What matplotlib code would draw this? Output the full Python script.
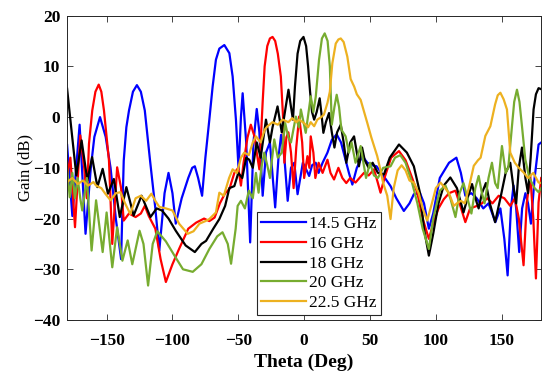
import matplotlib
matplotlib.use("Agg")
import matplotlib.pyplot as plt
import numpy as np

plt.rcParams['font.family'] = ['Liberation Serif', 'DejaVu Serif']

# 14.5 GHz
th_145 = [-180, -176, -170.5, -166, -162, -159.3, -155, -150.7, -147, -143, -139, -137, -135, -133, -130, -127, -124, -121,
          -117, -113, -110, -106, -103, -100, -97.5, -93, -88, -85, -83, -80.5, -77.5, -75, -72, -69.5, -67, -64.4, -60.6,
          -56.8, -54.3, -51.8, -49.8, -48, -46.7, -44, -41, -38.5, -36, -34, -31.5, -29, -26, -22, -19.5, -17.5, -15, -12.5,
          -10, -7.5, -5, -1, 1, 3.8, 6, 8.8, 11, 14, 17.7, 21, 24.7, 28, 31, 34, 36.6, 40, 44.2, 48, 52, 55, 60, 65.6, 70,
          75.7, 80, 83.3, 88, 91, 94.7, 98, 103, 110, 115.6, 119, 122.4, 127, 131, 136, 140, 145.2, 149, 152, 154.5, 157,
          159, 161, 163.3, 165.5, 168, 170, 172.2, 175, 178, 180]
g_145 = [-5.5, -19.5, -1.5, -23, -10, -3.9, 0, -3.9, -10, -20, -28, -8.6, -2, 1.3, 5, 6.3, 5, 1.3,
         -8.6, -18, -26.3, -15, -11, -15, -21, -16, -12, -10, -9.7, -12, -15.5, -8, -0.5, 6, 11.3, 13.5, 14.2,
         12.6, 8, -0.5, -10.3, 0, 4.7, -5, -24.7, -5, 1.6, -3, -15.5, -7, -5, -17.8, -8, -3.5, -8, -16.5,
         -10, -9, -15.2, -9, -10, -11.6, -9.5, -9, -11, -9, -7, -4.5, -3.4, -5, -8, -11, -13.3, -10, -7.7, -9, -9.5, -9.7, -11.5, -13.6, -16,
         -18.5, -17, -15.2, -15, -17, -22, -19, -12, -9, -8, -11, -15.5, -15, -16, -18, -17, -20.7, -18, -24, -31.2, -18,
         -13.5, -18, -26.6, -18, -15, -17, -21, -12, -5.4, -5]

# 16 GHz
th_16 = [-180, -177.5, -174, -170, -167, -165, -163.4, -160.9, -158.5, -156, -154, -152, -148.2, -145.7, -142, -139, -137,
         -133, -128, -124, -121, -118, -113, -109, -105, -100, -95, -88, -82, -76, -72, -68, -64, -60, -56.8, -53, -50, -48,
         -46, -43, -40.5, -37.5, -36, -34, -31.5, -30, -28, -26, -24, -22, -20, -17.7, -16, -15, -13.5, -12, -10, -8, -6,
         -3.8, -1.5, 0, 2.5, 4, 5, 7, 8.5, 11, 14, 17.7, 20, 22.7, 26, 29, 32, 35, 39, 42, 45.4, 49, 53, 56, 58, 61, 66,
         72, 77, 82, 86, 90, 94.7, 98, 102, 106, 110, 114.9, 118, 122.4, 126, 131.3, 135, 139, 143, 147.7, 152, 156.5, 160,
         163, 166.6, 169, 171.7, 174, 176, 178, 180]
g_16 = [-11.5, -8, -21.7, -3.6, -10, -16, -5.3, 1.3, 5, 6.4, 5, 1.3, -8.6, -25, -9.9, -14, -20.4,
        -19, -19.7, -19, -17.5, -19.5, -22, -28, -32.5, -29, -26, -22, -20.8, -20, -20.5, -19.8, -17, -15, -14.2, -11, -10, -13.5,
        -9, -4, -1.5, -4, -7, -10.3, 3, 10, 14, 15.5, 15.8, 15, 12.5, 8, 0, -9, -4, -3, -7, -14, -6,
        0.1, -5, -12, -7.7, -10, -3.8, -7, -12, -9, -11, -8.4, -11, -12.3, -10, -12, -13, -12, -12.9, -12, -11, -11.5, -10.3, -13, -14.9, -12, -8,
        -6.7, -8.5, -12, -15, -20, -24, -21, -18, -16.2, -15, -14.5, -17, -20.7, -18, -17.5, -17, -16, -17, -15.5, -16, -17.5, -16,
        -20, -29.2, -17, -11.6, -20, -31.8, -16.8, -12]

# 18 GHz
th_18 = [-180, -176.5, -173, -169, -164.6, -161, -157, -153, -149, -144.5, -140, -135, -129.5, -123.5, -116.7, -112, -108,
         -103, -97.5, -90, -83, -78, -74.5, -69, -64.4, -60, -56.8, -53, -50, -47, -44, -41.7, -39, -36, -33, -29, -26, -24,
         -20.2, -17, -14, -11.9, -10, -8.5, -7, -5, -3, -0.5, 1.5, 3, 4.5, 6, 7.6, 9.5, 11.8, 13, 14.6, 16.5, 18.9, 21, 23,
         25, 27.8, 30, 32, 35, 37.9, 40, 41.6, 44, 46, 49, 52, 56, 60.6, 65, 72, 78, 83.3, 88, 91, 94.7, 98, 102, 106, 111,
         116, 121, 124, 127.5, 130, 132.5, 135, 138, 141, 145, 149, 153, 156.5, 159, 161, 163, 165.4, 168, 170, 172, 174.2,
         176, 178, 180]
g_18 = [5.6, -3, -11.5, -4.6, -12.5, -7.9, -13.8, -10.2, -15.1, -12.2, -19.7, -13.8, -19.4, -15.5, -19.7, -18, -18.4,
        -20, -22.4, -25.3, -26.6, -25, -24.4, -22, -20.1, -17.5, -14, -13.6, -11, -12, -8, -8.4, -10, -5, -8, -0.5, -5, -2,
        2.1, -3, 2, 5.4, 2, -0.5, 6, 12.5, 15, 15.8, 14, 10, 5, 1, -0.5, 1, 3.7, 1, -3.1, -1, 0.8, -3, -6,
        -3, -1.5, -5, -9, -5, -3.8, -7, -9.7, -6, -8.5, -10, -9, -11, -11.3, -8, -5.4, -7, -9.7, -15, -22, -27.3, -23, -17, -13.5, -11.9,
        -14, -18.8, -16, -13.2, -16, -18, -15, -13, -17, -20.7, -16, -11, -9, -14, -17, -10, -6, -12, -15, -8, 1.5,
        4.5, 5.7, 5.5]

# 20 GHz
th_20 = [-180, -178, -176, -174, -172, -170, -168.5, -165, -161.4, -158, -153, -150, -145.7, -142, -138, -134, -130.5,
         -125, -122, -118.5, -115, -111.5, -105, -98, -92, -84.6, -78, -72, -66, -62, -58, -55.5, -52, -50.5, -48, -45,
         -42, -39, -36.6, -34.6, -32.5, -30.3, -28, -26, -22.7, -20, -17, -14.4, -12, -10, -6.3, -4, -2.5, 1.2, 5, 7, 8.8,
         11.3, 13.5, 15.6, 17.8, 19.5, 21, 23, 24.7, 26.5, 28.3, 31.5, 34, 36, 39, 42.9, 45, 47, 50, 53, 56, 60, 65.6, 69,
         73, 77, 82, 86, 90, 94.7, 98, 103, 107.3, 111, 114.9, 118, 121, 124, 127, 130, 132.5, 135, 137, 140, 142.6, 145,
         147, 150.2, 153, 155, 157.8, 159.5, 161.6, 163.5, 165.4, 167.9, 171, 175, 178, 180]
g_20 = [-10.2, -15.8, -11, -16, -12, -16, -18.4, -12, -26.3, -16.4, -26.6, -18.8, -29.6, -21.7, -28.3, -24.3, -29,
        -22.4, -25, -33.2, -25, -22.5, -24.5, -27.5, -30, -30.5, -29, -26, -23.5, -22.7, -25, -28.9, -22, -17.5, -16.5, -18,
        -14.5, -16, -11, -14.9, -10, -7, -9.5, -12, -4.4, -8, -7, -1.2, -4, -5, 0.1, -2, 1.5, -3.1, 4.1, 1, 4,
        11.3, 15.5, 16.5, 15, 10, -1.5, 2, 4.4, 2, -2.5, -3.8, -7, -5, -9, -5.7, -9, -12, -9, -11.5, -12, -10, -9.7, -8,
        -7.5, -9, -13, -17, -22, -26, -20, -14.5, -13.5, -16, -19.7, -15, -13, -16, -19, -14, -11.6, -15, -17, -12, -9, -13,
        -14, -5.7, -11, -10, -1.8, 3, 5.4, 3, -1.8, -8.3, -12, -14, -14.8, -14]

# 22.5 GHz
th_225 = [-180, -176, -172, -168, -164, -160, -158, -154, -151, -147, -143, -139.5, -136, -132, -128, -124, -120, -116,
          -113, -110, -105, -100, -95, -88.4, -84, -79.5, -75, -72, -67, -64.4, -61, -57, -54.3, -51, -48, -45.5, -42, -39,
          -36.6, -33, -30, -27.8, -24, -20, -16.4, -12, -9, -6, -3.8, 0, 3, 5, 7.6, 10, 13, 15, 17.7, 19.5, 21.4, 24, 26,
          27.8, 30, 32.8, 35.3, 38, 40, 42.9, 45, 48, 51, 55.5, 58, 60, 63.1, 65.6, 68, 71, 74, 77, 80, 83.3, 87, 90, 93.4,
          97, 100, 103.5, 107, 110, 113.6, 116, 119, 122, 125, 128.8, 132, 134, 137.6, 141.4, 145, 147, 149, 151.5, 154,
          156.5, 160, 163, 166.6, 170, 174, 178, 180]
g_225 = [-12.8, -12, -13.2, -12.5, -13.5, -12.8, -13.5, -14, -15.1, -16.4, -15, -14.8, -17, -19.1, -16, -15.5, -16.5, -15.1,
         -16.5, -17.7, -18, -18.4, -21, -23, -22.5, -21, -20.5, -20.1, -18.8, -14.9, -15.5, -12, -10.3, -11, -8, -7, -7.5, -5,
         -3.8, -5, -2.5, -1.8, -1, -1.5, -0.5, -1, -0.2, -1, -0.5, -1.2, -2, -1, -1.8, -0.5, 0, 0.5, 2.8, 5, 10.6, 14.5, 15.3,
         15.5, 14.8, 11.9, 7.5, 6, 4.5, 3.4, 1.5, -1.2, -4, -7.7, -10.5, -13, -15.5, -20.1, -14, -10.5, -9.5, -10.5, -12.5, -12.9, -15, -18, -20.4,
         -17, -14, -12.9, -14, -15, -17.5, -17, -16.5, -17, -14, -9.6, -8.5, -8, -3.7, -1.8, 2.5, 4.3, 4.8, 3.5, 1.5,
         -7, -9, -10, -10.9, -12, -11, -12.9, -13]

labels = ['14.5 GHz', '16 GHz', '18 GHz', '20 GHz', '22.5 GHz']
colors = ['#0000FF', '#FF0000', '#000000', '#77AC30', '#EDB120']

fig = plt.figure(figsize=(5.5, 3.81), dpi=100)
ax = fig.add_axes([0.122, 0.16, 0.862, 0.799])

series = [(th_145, g_145), (th_16, g_16), (th_18, g_18), (th_20, g_20), (th_225, g_225)]
for (th, g), lab, c in zip(series, labels, colors):
    ax.plot(th, g, color=c, lw=1.6, label=lab, solid_joinstyle='round')

ax.set_xlim(-180, 180)
ax.set_ylim(-40, 20)
ax.set_xticks([-150, -100, -50, 0, 50, 100, 150])
ax.set_yticks([-40, -30, -20, -10, 0, 10, 20])
ax.tick_params(direction='in', top=True, right=True, length=4, width=0.6, colors='#262626', labelsize=12.5)
ax.tick_params(axis='x', pad=9)
ax.tick_params(axis='y', pad=5)
for t in ax.get_xticklabels() + ax.get_yticklabels():
    t.set_fontweight('bold')
    t.set_color('black')
for s in ax.spines.values():
    s.set_color('#262626')
    s.set_linewidth(0.7)

ax.set_xlabel('Theta (Deg)', fontsize=14, fontweight='bold', labelpad=4)
ax.set_ylabel('Gain (dB)', fontsize=12, labelpad=0)

leg = ax.legend(loc='lower left', bbox_to_anchor=(0.40, 0.016), borderaxespad=0, fancybox=False,
                framealpha=1, edgecolor='#262626', fontsize=12.5, handlelength=2.6, handletextpad=0.15,
                labelspacing=0.2, borderpad=0.25)
leg.get_frame().set_linewidth(0.8)

fig.savefig('out.png', dpi=100)
